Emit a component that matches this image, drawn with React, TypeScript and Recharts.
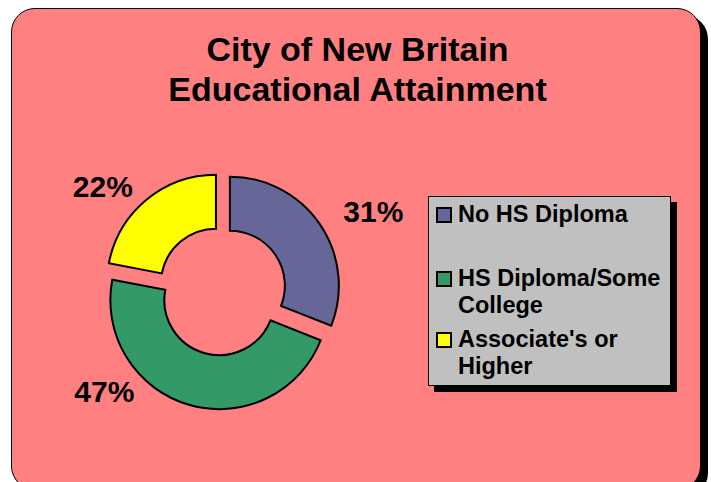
import { Cell, Legend, Pie, PieChart, Sector } from "recharts";

// Educational attainment shares (percent).
const CATEGORIES = ["No HS Diploma", "HS Diploma/Some College", "Associate's or Higher"];
const SHARES = [31, 47, 22];
const COLORS = ["#666699", "#339966", "#FFFF00"];

const TITLE_LINES = ["City of New Britain", "Educational Attainment"];

const FONT = '"Liberation Sans", Arial, sans-serif';
const RAD = Math.PI / 180;
const EXPLODE = 9.5;

// Small hand tweaks so the percent labels sit where Excel put them.
const LABEL_NUDGE_DEG = [-1, -25, 1];
const LABEL_GAP = [36, 24, 28];

const data = CATEGORIES.map((name, i) => ({ name, value: SHARES[i] }));

function ExplodedSector(props: any) {
  const { cx, cy, midAngle } = props;
  return (
    <Sector
      {...props}
      cx={cx + EXPLODE * Math.cos(-midAngle * RAD)}
      cy={cy + EXPLODE * Math.sin(-midAngle * RAD)}
    />
  );
}

function PercentLabel(props: any) {
  const { cx, cy, midAngle, outerRadius, index, value } = props;
  const angle = midAngle + LABEL_NUDGE_DEG[index];
  const r = outerRadius + LABEL_GAP[index];
  const x = cx + r * Math.cos(-angle * RAD);
  const y = cy + r * Math.sin(-angle * RAD);
  return (
    <text
      x={x}
      y={y}
      textAnchor={x > cx ? "start" : "end"}
      dominantBaseline="central"
      fontFamily={FONT}
      fontWeight="bold"
      fontSize={30}
      fill="#000"
    >
      {value}%
    </text>
  );
}

// Legend keeps the data order (Recharts hands the pie payload back reversed).
function LegendBox() {
  return (
    <div
      style={{
        width: 243,
        height: 190,
        boxSizing: "border-box",
        background: "#C0C0C0",
        border: "1px solid #000",
        boxShadow: "6px 6px 0 #000",
        padding: "4px 0 0 7px",
        fontFamily: FONT,
        fontWeight: "bold",
        fontSize: 23.5,
        lineHeight: "27px",
        color: "#000",
      }}
    >
      {CATEGORIES.map((name, i) => (
        <div
          key={name}
          style={{ display: "flex", alignItems: "flex-start", marginBottom: i === 0 ? 37 : 7 }}
        >
          <span
            style={{
              width: 16,
              height: 16,
              flex: "0 0 16px",
              boxSizing: "border-box",
              border: "2px solid #000",
              background: COLORS[i],
              marginTop: 6,
              marginRight: 6,
            }}
          />
          <span style={{ width: 212 }}>{name}</span>
        </div>
      ))}
    </div>
  );
}

export default function App() {
  return (
    <div style={{ position: "absolute", left: 0, top: 0, width: 711, height: 482, overflow: "hidden", background: "#fff" }}>
      <div
        style={{
          position: "absolute",
          left: 11,
          top: 8,
          width: 690,
          height: 482,
          boxSizing: "border-box",
          background: "#FF8080",
          border: "1px solid #000",
          borderRadius: 24,
          boxShadow: "7px 7px 0 #000",
        }}
      />
      <div
        style={{
          position: "absolute",
          left: 0,
          top: 29,
          width: 715,
          textAlign: "center",
          fontFamily: FONT,
          fontWeight: "bold",
          fontSize: 34,
          lineHeight: "40px",
          color: "#000",
        }}
      >
        {TITLE_LINES.map((line) => (
          <div key={line}>{line}</div>
        ))}
      </div>
      <div style={{ position: "absolute", left: 0, top: 0 }}>
        <PieChart width={711} height={482} margin={{ top: 0, right: 0, bottom: 0, left: 0 }}>
          <Pie
            data={data}
            dataKey="value"
            nameKey="name"
            cx={222}
            cy={291}
            innerRadius={55}
            outerRadius={109}
            startAngle={90}
            endAngle={-270}
            stroke="#000"
            strokeWidth={2}
            shape={ExplodedSector}
            label={PercentLabel}
            labelLine={false}
            isAnimationActive={false}
          >
            {data.map((d, i) => (
              <Cell key={d.name} fill={COLORS[i]} />
            ))}
          </Pie>
          <Legend
            content={<LegendBox />}
            wrapperStyle={{ position: "absolute", left: 428, top: 196, width: 243, height: 190 }}
          />
        </PieChart>
      </div>
    </div>
  );
}
